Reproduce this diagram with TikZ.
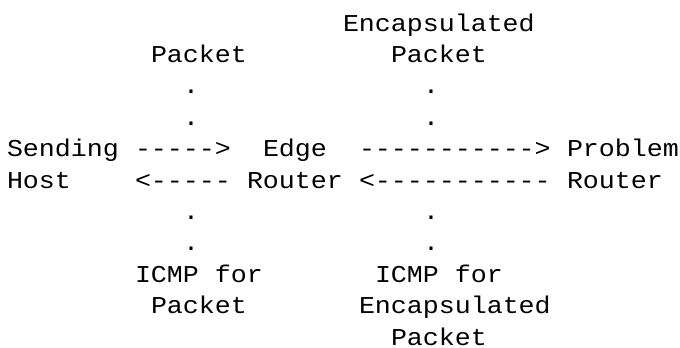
\documentclass[tikz,border=0pt]{standalone}
\usepackage{fontspec}
\setmonofont{Liberation Mono}[FakeStretch=1.1]
\begin{document}
\begin{tikzpicture}[x=1pt,y=-1pt,
  txt/.style={anchor=base west,inner sep=0pt,outer sep=0pt,
    font=\fontsize{24.2pt}{31.4pt}\selectfont\ttfamily}]
\fill[white] (0,0) rectangle (680,348);
\useasboundingbox (0,0) rectangle (680,348);
% row 1-2
\node[txt] (encTop) at (343,31) {Encapsulated};
\node[txt] (pktA) at (151,62.4) {Packet};
\node[txt] (pktB) at (391,62.4) {Packet};
% dots above
\node[txt] (dA1) at (183,93.8) {.};
\node[txt] (dB1) at (423,93.8) {.};
\node[txt] (dA2) at (183,125.2) {.};
\node[txt] (dB2) at (423,125.2) {.};
% row 5
\node[txt] (sending) at (7,156.6) {Sending};
\node[txt] (arrA) at (135,156.6) {{-}{-}{-}{-}{-}>};
\node[txt] (edge) at (263,156.6) {Edge};
\node[txt] (arrB) at (359,156.6) {{-}{-}{-}{-}{-}{-}{-}{-}{-}{-}{-}>};
\node[txt] (problem) at (567,156.6) {Problem};
% row 6
\node[txt] (host) at (7,188) {Host};
\node[txt] (arrC) at (135,188) {<{-}{-}{-}{-}{-}};
\node[txt] (router) at (247,188) {Router};
\node[txt] (arrD) at (359,188) {<{-}{-}{-}{-}{-}{-}{-}{-}{-}{-}{-}};
\node[txt] (router2) at (567,188) {Router};
% dots below
\node[txt] (dA3) at (183,219.4) {.};
\node[txt] (dB3) at (423,219.4) {.};
\node[txt] (dA4) at (183,250.8) {.};
\node[txt] (dB4) at (423,250.8) {.};
% rows 9-11
\node[txt] (icmpA) at (135,282.2) {ICMP for};
\node[txt] (icmpB) at (375,282.2) {ICMP for};
\node[txt] (pktC) at (151,313.6) {Packet};
\node[txt] (encBot) at (359,313.6) {Encapsulated};
\node[txt] (pktD) at (391,345) {Packet};
\end{tikzpicture}
\end{document}
